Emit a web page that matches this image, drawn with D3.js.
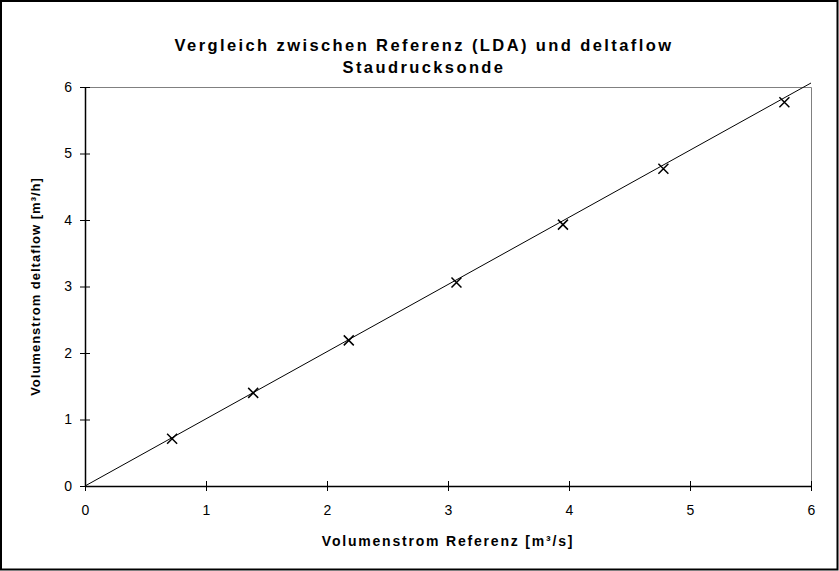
<!DOCTYPE html>
<html>
<head>
<meta charset="utf-8">
<script src="https://cdn.jsdelivr.net/npm/d3@7"></script>
<style>
  html, body { margin: 0; padding: 0; background: #fff; }
  svg { display: block; }
</style>
</head>
<body>
<svg id="chart" width="839" height="571"></svg>
<script>
// Data
const refValues = [0.72, 1.39, 2.18, 3.07, 3.95, 4.78, 5.78];
const deltaflowValues = [0.71, 1.40, 2.19, 3.06, 3.93, 4.77, 5.77];
const trendX = [0, 6];
const trendY = [0, 6.06];
const xTicks = [0, 1, 2, 3, 4, 5, 6];
const yTicks = [0, 1, 2, 3, 4, 5, 6];
const titleLines = ["Vergleich zwischen Referenz (LDA) und deltaflow", "Staudrucksonde"];
const xLabel = "Volumenstrom Referenz [m³/s]";
const yLabel = "Volumenstrom deltaflow [m³/h]";

const svg = d3.select("#chart");
const W = 839, H = 571;
const plot = { left: 85, right: 811, top: 87, bottom: 486 };
const font = "'Liberation Sans', Arial, sans-serif";

// outer border
svg.append("rect").attr("x", 1).attr("y", 1).attr("width", W - 2.5).attr("height", H - 2.5)
  .attr("fill", "#fff").attr("stroke", "#000").attr("stroke-width", 2);

const x = d3.scaleLinear().domain([0, 6]).range([plot.left, plot.right]);
const y = d3.scaleLinear().domain([0, 6]).range([plot.bottom, plot.top]);

// plot frame (top/right gray)
svg.append("path")
  .attr("d", `M${plot.left},${plot.top + 0.5}H${plot.right + 0.5}V${plot.bottom}`)
  .attr("fill", "none").attr("stroke", "#808080").attr("stroke-width", 1);

const line = d3.line().x(d => x(d[0])).y(d => y(d[1]));
svg.append("path")
  .datum(trendX.map((v, i) => [v, trendY[i]]))
  .attr("d", line)
  .attr("fill", "none").attr("stroke", "#000").attr("stroke-width", 1);

// axes
const xAxis = d3.axisBottom(x).tickValues(xTicks).tickSizeInner(5).tickSizeOuter(0).tickPadding(14).tickFormat(d3.format("d"));
const gx = svg.append("g").attr("transform", `translate(0,${plot.bottom})`).call(xAxis);
gx.select(".domain").attr("stroke", "#000").attr("stroke-width", 1.5);
gx.selectAll(".tick line").attr("y1", -5).attr("y2", 5).attr("stroke", "#000");
gx.selectAll(".tick text").attr("font-family", font).attr("font-size", 14).attr("fill", "#000");

const yAxis = d3.axisLeft(y).tickValues(yTicks).tickSizeInner(5).tickSizeOuter(0).tickPadding(8).tickFormat(d3.format("d"));
const gy = svg.append("g").attr("transform", `translate(${plot.left},0)`).call(yAxis);
gy.select(".domain").attr("stroke", "#000").attr("stroke-width", 1.5);
gy.selectAll(".tick line").attr("x1", -5).attr("x2", 5).attr("stroke", "#000");
gy.selectAll(".tick text").attr("font-family", font).attr("font-size", 14).attr("fill", "#000");

// markers (X)
const s = 5;
svg.append("g").selectAll("path")
  .data(refValues.map((v, i) => [v, deltaflowValues[i]]))
  .join("path")
  .attr("d", d => {
    const cx = x(d[0]), cy = y(d[1]);
    return `M${cx - s},${cy - s}L${cx + s},${cy + s}M${cx - s},${cy + s}L${cx + s},${cy - s}`;
  })
  .attr("stroke", "#000").attr("stroke-width", 1.5).attr("fill", "none");

// title
svg.append("text").attr("x", 424).attr("y", 51).attr("text-anchor", "middle")
  .attr("font-family", font).attr("font-weight", "bold").attr("font-size", 16.5).attr("letter-spacing", 2.4)
  .text(titleLines[0]);
svg.append("text").attr("x", 424).attr("y", 73).attr("text-anchor", "middle")
  .attr("font-family", font).attr("font-weight", "bold").attr("font-size", 16.5).attr("letter-spacing", 2.4)
  .text(titleLines[1]);

// axis labels
svg.append("text").attr("x", (plot.left + plot.right) / 2).attr("y", 546).attr("text-anchor", "middle")
  .attr("font-family", font).attr("font-weight", "bold").attr("font-size", 14).attr("letter-spacing", 1.8)
  .text(xLabel);
svg.append("text")
  .attr("transform", `translate(40,${(plot.top + plot.bottom) / 2}) rotate(-90)`)
  .attr("text-anchor", "middle")
  .attr("font-family", font).attr("font-weight", "bold").attr("font-size", 13).attr("letter-spacing", 1.0)
  .text(yLabel);
</script>
</body>
</html>
